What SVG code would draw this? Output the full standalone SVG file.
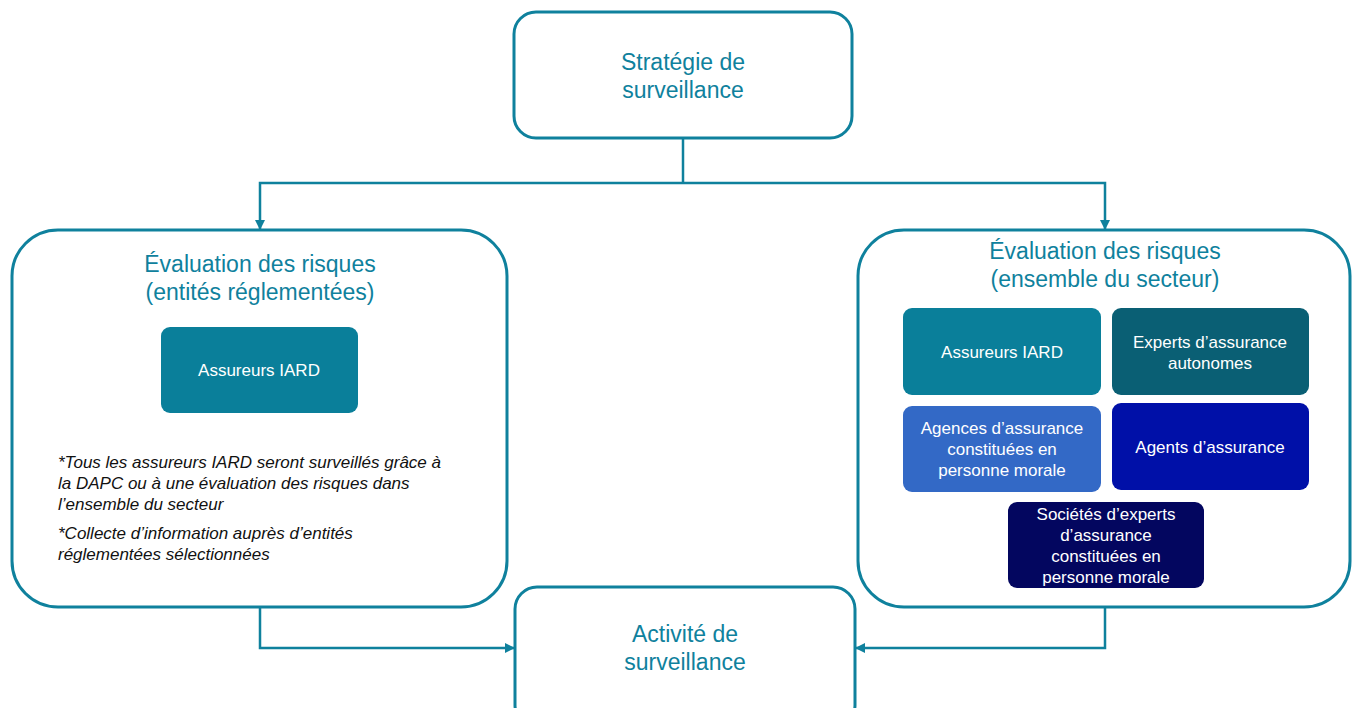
<svg xmlns="http://www.w3.org/2000/svg" width="1356" height="708" viewBox="0 0 1356 708">
<defs>
<style>
.frame{fill:#fff;stroke:#0f819d;stroke-width:3}
.conn{fill:none;stroke:#0f819d;stroke-width:2.5}
.ttl{font-family:"Liberation Sans",Arial,sans-serif;font-size:23px;fill:#0f819d;text-anchor:middle}
.lbl{font-family:"Liberation Sans",Arial,sans-serif;font-size:17px;fill:#fff;text-anchor:middle}
.note{font-family:"Liberation Sans",Arial,sans-serif;font-size:17px;font-style:italic;fill:#111}
</style>
<marker id="arr" viewBox="0 0 10 10" refX="9" refY="5" markerWidth="4" markerHeight="4" orient="auto">
<path d="M0,0 L10,5 L0,10 z" fill="#0f819d"/>
</marker>
</defs>
<rect width="1356" height="708" fill="#fff"/>
<g id="connectors">
<path class="conn" d="M683,138 V183"/>
<path class="conn" d="M683,183 H260 V229" marker-end="url(#arr)"/>
<path class="conn" d="M683,183 H1105 V229" marker-end="url(#arr)"/>
<path class="conn" d="M260,607 V648 H514" marker-end="url(#arr)"/>
<path class="conn" d="M1105,607 V648 H856" marker-end="url(#arr)"/>
</g>
<g id="strategie">
<rect class="frame" x="514" y="12" width="338" height="126" rx="22"/>
<text class="ttl" x="683" y="70">Stratégie de</text>
<text class="ttl" x="683" y="98">surveillance</text>
</g>
<g id="eval-entites">
<rect class="frame" x="12" y="230" width="495" height="377" rx="46"/>
<text class="ttl" x="260" y="272">Évaluation des risques</text>
<text class="ttl" x="260" y="300">(entités réglementées)</text>
</g>
<g id="assureurs-left">
<rect x="161" y="327" width="197" height="86" rx="9" fill="#0a7f9a"/>
<text class="lbl" x="259" y="376">Assureurs IARD</text>
</g>
<g id="notes">
<text class="note" x="58" y="468">*Tous les assureurs IARD seront surveillés grâce à</text>
<text class="note" x="58" y="489">la DAPC ou à une évaluation des risques dans</text>
<text class="note" x="58" y="510">l’ensemble du secteur</text>
<text class="note" x="58" y="539">*Collecte d’information auprès d’entités</text>
<text class="note" x="58" y="560">réglementées sélectionnées</text>
</g>
<g id="eval-secteur">
<rect class="frame" x="858" y="230" width="492" height="377" rx="46"/>
<text class="ttl" x="1105" y="259">Évaluation des risques</text>
<text class="ttl" x="1105" y="287">(ensemble du secteur)</text>
</g>
<g id="assureurs-right">
<rect x="903" y="308" width="198" height="87" rx="9" fill="#0a7f9a"/>
<text class="lbl" x="1002" y="358">Assureurs IARD</text>
</g>
<g id="experts">
<rect x="1112" y="308" width="197" height="87" rx="9" fill="#0a5f74"/>
<text class="lbl" x="1210" y="348">Experts d’assurance</text>
<text class="lbl" x="1210" y="369">autonomes</text>
</g>
<g id="agences">
<rect x="903" y="406" width="198" height="86" rx="9" fill="#3369c6"/>
<text class="lbl" x="1002" y="434">Agences d’assurance</text>
<text class="lbl" x="1002" y="455">constituées en</text>
<text class="lbl" x="1002" y="476">personne morale</text>
</g>
<g id="agents">
<rect x="1112" y="403" width="197" height="87" rx="9" fill="#0010a8"/>
<text class="lbl" x="1210" y="453">Agents d’assurance</text>
</g>
<g id="societes">
<rect x="1008" y="502" width="196" height="86" rx="9" fill="#03065f"/>
<text class="lbl" x="1106" y="520">Sociétés d’experts</text>
<text class="lbl" x="1106" y="541">d’assurance</text>
<text class="lbl" x="1106" y="562">constituées en</text>
<text class="lbl" x="1106" y="583">personne morale</text>
</g>
<g id="activite">
<rect class="frame" x="515" y="587" width="340" height="140" rx="22"/>
<text class="ttl" x="685" y="642">Activité de</text>
<text class="ttl" x="685" y="670">surveillance</text>
</g>
</svg>
